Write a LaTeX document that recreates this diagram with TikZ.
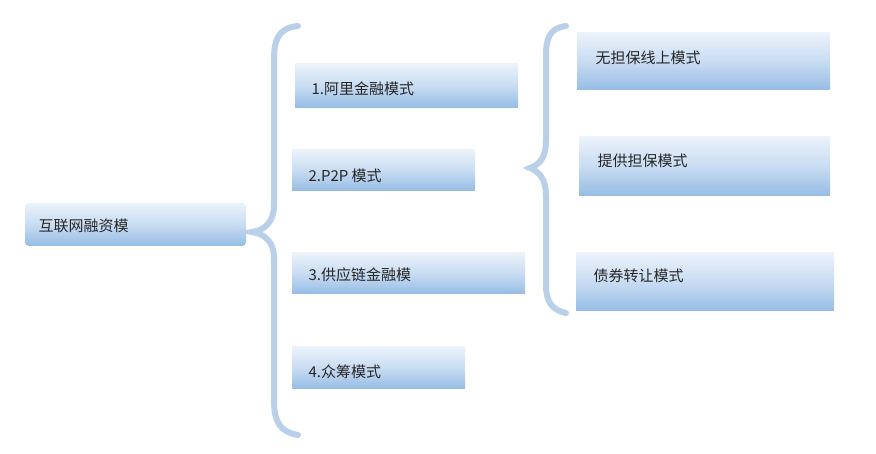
\documentclass[tikz,border=0pt]{standalone}
\usepackage{fontspec}
\newfontfamily\cjk{Noto Sans CJK SC}
\begin{document}
\begin{tikzpicture}[x=1pt,y=-1pt,
  box/.style={inner sep=0pt,top color=topc,bottom color=botc,middle color=midc},
  lbl/.style={anchor=west,font=\cjk\fontsize{15}{15}\selectfont,text=black!85},
  brace/.style={draw=bracec,line width=6pt,line cap=round}]
\definecolor{topc}{RGB}{235,242,250}
\definecolor{midc}{RGB}{200,220,242}
\definecolor{botc}{RGB}{150,188,228}
\definecolor{bracec}{RGB}{185,208,232}
\useasboundingbox (0,0) rectangle (876,454);
\fill[white] (0,0) rectangle (876,454);
\shade[box,rounded corners=4pt] (25,203) rectangle (246,246);
\node[lbl] (root) at (35,226) {互联网融资模};
\shade[box] (295,64) rectangle (518,108); \node[lbl] (a) at (308,89) {1.阿里金融模式};
\shade[box] (292,150) rectangle (475,191); \node[lbl] (b) at (305,176) {2.P2P 模式};
\shade[box] (292,253) rectangle (525,294); \node[lbl] (c) at (305,275) {3.供应链金融模};
\shade[box] (292,347) rectangle (465,389); \node[lbl] (d) at (305,372) {4.众筹模式};
\shade[box] (577,33) rectangle (830,90); \node[lbl] (e) at (592,58) {无担保线上模式};
\shade[box] (579,137) rectangle (830,196); \node[lbl] (f) at (594,161) {提供担保模式};
\shade[box] (576,253) rectangle (834,311); \node[lbl] (g) at (590,276) {债券转让模式};
\draw[brace] (298,26) .. controls (278,28) and (274,40) .. (274,60) -- (274,205) .. controls (274,222) and (265,230) .. (252,232)
  .. controls (265,234) and (274,242) .. (274,258) -- (274,400) .. controls (274,422) and (280,432) .. (298,435);
\draw[brace] (566,26) .. controls (550,28) and (546,38) .. (546,55) -- (546,140) .. controls (546,158) and (540,164) .. (530,168)
  .. controls (540,172) and (546,180) .. (546,196) -- (546,285) .. controls (546,302) and (552,310) .. (566,313);
\end{tikzpicture}
\end{document}
